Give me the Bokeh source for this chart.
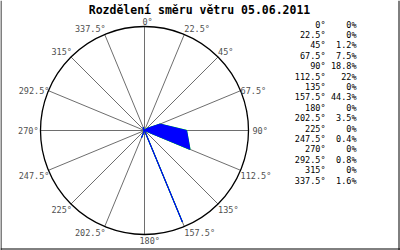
import numpy as np
from bokeh.plotting import figure
from bokeh.models import Range1d, Span
from bokeh.core.properties import value
from bokeh.embed import file_html
from bokeh.resources import INLINE

title = "Rozdělení směru větru 05.06.2011"
directions = [0, 22.5, 45, 67.5, 90, 112.5, 135, 157.5, 180, 202.5, 225, 247.5, 270, 292.5, 315, 337.5]
percent = [0, 0, 1.2, 7.5, 18.8, 22, 0, 44.3, 0, 3.5, 0, 0.4, 0, 0.8, 0, 1.6]

W, H = 400, 250
CX, CY = 144, 130          # centre of the rose (pixels)
R = 104                    # outer circle radius (pixels)
scale_max = max(percent) * 1.05
MONO = "DejaVu Sans Mono"

p = figure(width=W, height=H, x_range=Range1d(-CX, W - CX), y_range=Range1d(-(H - CY), CY),
           output_backend="svg", toolbar_location=None, min_border=0,
           x_axis_type=None, y_axis_type=None)
p.grid.visible = False
p.outline_line_color = None
p.background_fill_color = "white"
p.border_fill_color = "white"

th = np.radians(np.array(directions))
ex, ey = R * np.sin(th), R * np.cos(th)

# spokes
p.segment(x0=np.zeros(len(th)), y0=np.zeros(len(th)), x1=ex, y1=ey, line_color="#6e6e6e", line_width=1)
# outer circle
p.circle(x=[0], y=[0], radius=R, fill_color=None, line_color="black", line_width=1.3)

# data polygon
rr = np.array(percent) / scale_max * R
px, py = rr * np.sin(th), rr * np.cos(th)
p.patch(list(px), list(py), fill_color=None, line_color="#00ff00", line_width=1.3)
p.patch(list(px), list(py), fill_color="#0000ff", line_color="#0000ff", line_width=1)

# direction labels
for d, x, y, t in zip(directions, ex, ey, th):
    s, c = np.sin(t), np.cos(t)
    if abs(s) < 1e-6:
        align = "left"
        xo = -2 if c > 0 else -5
    elif s > 0:
        align, xo = "left", 0
    else:
        align, xo = "right", 1
    if c >= 0.5:
        base, yo = "bottom", 0
    elif c >= -1e-6:
        base, yo = "middle", 0
    else:
        base, yo = "top", 1
    if abs(s - 1) < 1e-6:
        xo = 4
    if abs(s + 1) < 1e-6:
        xo = -2
    p.text(x=[x], y=[y], text=[f"{d:g}°"], x_offset=xo, y_offset=yo,
           text_align=align, text_baseline=base, text_font=value(MONO),
           text_font_size="8.5px", text_color="#505050")

# table on the right
ty = [CY - (24 + 10.4 * i) for i in range(len(directions))]
p.text(x=[325 - CX] * len(directions), y=ty, text=[f"{d:g}°" for d in directions],
       text_align="right", text_baseline="middle", text_font=value(MONO),
       text_font_size="8.5px", text_color="black")
p.text(x=[356 - CX] * len(directions), y=ty, text=[f"{v:g}%" for v in percent],
       text_align="right", text_baseline="middle", text_font=value(MONO),
       text_font_size="8.5px", text_color="black")

# title
p.text(x=[199 - CX], y=[CY - 9], text=[title], text_align="center", text_baseline="middle",
       text_font=value(MONO), text_font_style="bold", text_font_size="11.5px", text_color="black")

# border (left, right, bottom)
p.add_layout(Span(location=-CX + 0.5, dimension="height", line_color="black", line_width=1))
p.add_layout(Span(location=W - CX - 1.5, dimension="height", line_color="black", line_width=1))
p.add_layout(Span(location=-(H - CY) + 1.5, dimension="width", line_color="black", line_width=1))

open("out.html", "w").write(file_html(p, INLINE))
